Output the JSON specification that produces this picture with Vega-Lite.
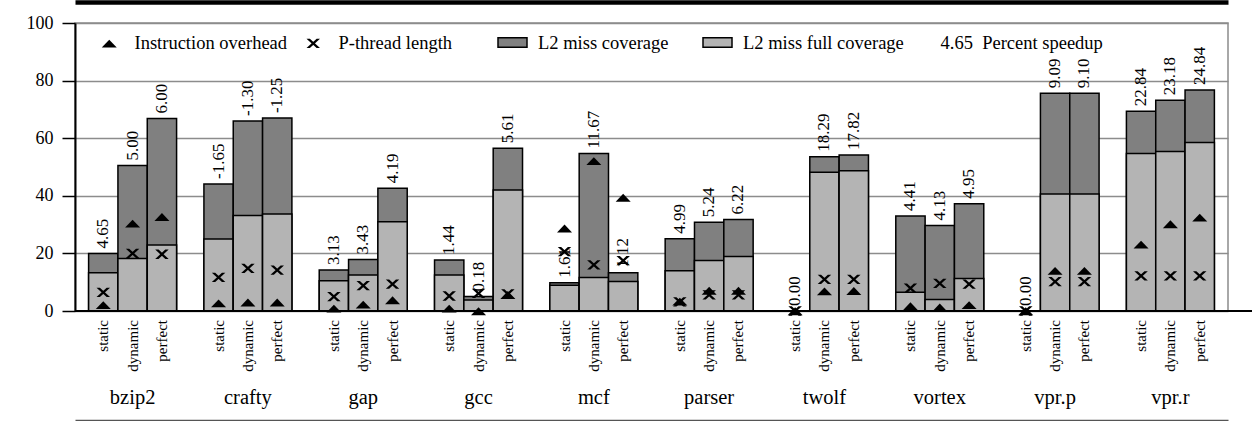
{
  "$schema": "https://vega.github.io/schema/vega-lite/v6.json",
  "width": 1153,
  "height": 288,
  "autosize": {"type": "none"},
  "padding": {"left": 75, "top": 23, "right": 24, "bottom": 110},
  "config": {
    "font": "Liberation Serif",
    "view": {"stroke": "#8c8c8c", "strokeWidth": 1.5}
  },
  "data": {
    "values": [
      {"group": "bzip2", "variant": "static", "cov": 20.0, "full": 13.3, "inst": 2.1, "plen": 6.5, "speedup": "4.65"},
      {"group": "bzip2", "variant": "dynamic", "cov": 50.5, "full": 18.2, "inst": 30.4, "plen": 20.0, "speedup": "5.00"},
      {"group": "bzip2", "variant": "perfect", "cov": 66.8, "full": 22.9, "inst": 32.7, "plen": 19.7, "speedup": "6.00"},
      {"group": "crafty", "variant": "static", "cov": 44.1, "full": 25.0, "inst": 2.7, "plen": 11.7, "speedup": "-1.65"},
      {"group": "crafty", "variant": "dynamic", "cov": 66.0, "full": 33.2, "inst": 3.0, "plen": 14.8, "speedup": "-1.30"},
      {"group": "crafty", "variant": "perfect", "cov": 67.0, "full": 33.7, "inst": 3.0, "plen": 14.2, "speedup": "-1.25"},
      {"group": "gap", "variant": "static", "cov": 14.2, "full": 10.5, "inst": 0.9, "plen": 5.0, "speedup": "3.13"},
      {"group": "gap", "variant": "dynamic", "cov": 17.9, "full": 12.5, "inst": 2.3, "plen": 8.8, "speedup": "3.43"},
      {"group": "gap", "variant": "perfect", "cov": 42.6, "full": 31.0, "inst": 3.8, "plen": 9.3, "speedup": "4.19"},
      {"group": "gcc", "variant": "static", "cov": 17.7, "full": 12.5, "inst": 0.9, "plen": 5.2, "speedup": "1.44"},
      {"group": "gcc", "variant": "dynamic", "cov": 5.0, "full": 3.8, "inst": 0.0, "plen": 6.1, "speedup": "0.18"},
      {"group": "gcc", "variant": "perfect", "cov": 56.5, "full": 42.0, "inst": 5.6, "plen": 5.9, "speedup": "5.61"},
      {"group": "mcf", "variant": "static", "cov": 9.8, "full": 8.9, "inst": 28.7, "plen": 20.6, "speedup": "1.61"},
      {"group": "mcf", "variant": "dynamic", "cov": 54.7, "full": 11.6, "inst": 52.1, "plen": 16.0, "speedup": "11.67"},
      {"group": "mcf", "variant": "perfect", "cov": 13.3, "full": 10.2, "inst": 39.4, "plen": 17.5, "speedup": "1.12"},
      {"group": "parser", "variant": "static", "cov": 25.1, "full": 14.0, "inst": 3.3, "plen": 3.2, "speedup": "4.99"},
      {"group": "parser", "variant": "dynamic", "cov": 30.8, "full": 17.5, "inst": 7.1, "plen": 5.6, "speedup": "5.24"},
      {"group": "parser", "variant": "perfect", "cov": 31.8, "full": 18.9, "inst": 7.1, "plen": 5.6, "speedup": "6.22"},
      {"group": "twolf", "variant": "static", "cov": 0, "full": 0, "inst": 0, "plen": 0, "speedup": "0.00"},
      {"group": "twolf", "variant": "dynamic", "cov": 53.6, "full": 48.2, "inst": 6.9, "plen": 11.0, "speedup": "18.29"},
      {"group": "twolf", "variant": "perfect", "cov": 54.2, "full": 48.7, "inst": 7.0, "plen": 11.0, "speedup": "17.82"},
      {"group": "vortex", "variant": "static", "cov": 33.0, "full": 6.5, "inst": 1.7, "plen": 7.9, "speedup": "4.41"},
      {"group": "vortex", "variant": "dynamic", "cov": 29.7, "full": 4.0, "inst": 1.3, "plen": 9.6, "speedup": "4.13"},
      {"group": "vortex", "variant": "perfect", "cov": 37.2, "full": 11.3, "inst": 2.1, "plen": 9.3, "speedup": "4.95"},
      {"group": "vpr.p", "variant": "static", "cov": 0, "full": 0, "inst": 0, "plen": 0, "speedup": "0.00"},
      {"group": "vpr.p", "variant": "dynamic", "cov": 75.6, "full": 40.6, "inst": 14.0, "plen": 10.2, "speedup": "9.09"},
      {"group": "vpr.p", "variant": "perfect", "cov": 75.6, "full": 40.6, "inst": 14.0, "plen": 10.2, "speedup": "9.10"},
      {"group": "vpr.r", "variant": "static", "cov": 69.4, "full": 54.7, "inst": 23.1, "plen": 12.2, "speedup": "22.84"},
      {"group": "vpr.r", "variant": "dynamic", "cov": 73.2, "full": 55.4, "inst": 30.2, "plen": 12.2, "speedup": "23.18"},
      {"group": "vpr.r", "variant": "perfect", "cov": 76.7, "full": 58.5, "inst": 32.5, "plen": 12.2, "speedup": "24.84"}
    ]
  },
  "encoding": {
    "xOffset": {
      "field": "variant", "type": "nominal", "sort": ["static", "dynamic", "perfect"],
      "scale": {"paddingInner": 0, "paddingOuter": 0}
    }
  },
  "resolve": {"axis": {"x": "independent"}},
  "layer": [
    {
      "transform": [{"fold": ["cov", "full"], "as": ["series", "pct"]}],
      "mark": {"type": "bar", "stroke": "black", "strokeWidth": 1.5, "opacity": 1},
      "encoding": {
        "x": {
          "field": "group", "type": "nominal", "sort": null,
          "scale": {"paddingInner": 0.237, "paddingOuter": 0.118},
          "axis": {"orient": "bottom", "title": null, "labelAngle": 0, "labelFontSize": 20.5, "labelColor": "black", "labelBaseline": "top", "labelPadding": -33, "ticks": false, "domainColor": "#555555", "domainWidth": 1.5, "offset": 109, "grid": false}
        },
        "y": {
          "field": "pct", "type": "quantitative", "stack": null,
          "scale": {"domain": [0, 100], "nice": false},
          "axis": {"title": null, "values": [0, 20, 40, 60, 80, 100], "labelFontSize": 18, "labelColor": "black", "labelPadding": 9, "tickSize": 13, "tickColor": "black", "tickWidth": 1.5, "domainColor": "black", "domainWidth": 2, "grid": true, "gridColor": "#8c8c8c", "gridWidth": 1.5}
        },
        "fill": {
          "field": "series", "type": "nominal",
          "scale": {"domain": ["cov", "full"], "range": ["#808080", "#b4b4b4"]},
          "legend": {"orient": "none", "legendX": 422, "legendY": 4, "direction": "horizontal", "title": null, "symbolType": "M-1,-0.33H1V0.33H-1Z", "symbolSize": 841, "symbolStrokeColor": "black", "symbolStrokeWidth": 1.5, "symbolOpacity": 1, "labelFontSize": 18.5, "labelColor": "black", "labelOffset": 10, "columnPadding": 31, "labelLimit": 400, "labelExpr": "datum.label == 'cov' ? 'L2 miss coverage' : 'L2 miss full coverage'"}
        }
      }
    },
    {
      "mark": {"type": "rule", "color": "black", "strokeWidth": 2},
      "encoding": {"y": {"datum": 0}}
    },
    {
      "transform": [{"fold": ["inst", "plen"], "as": ["marker", "val"]}],
      "mark": {"type": "point", "filled": true, "fill": "black", "strokeWidth": 0, "opacity": 1, "size": 225},
      "encoding": {
        "x": {"field": "group", "type": "nominal", "sort": null, "axis": null},
        "y": {"field": "val", "type": "quantitative"},
        "shape": {
          "field": "marker", "type": "nominal",
          "scale": {"domain": ["inst", "plen"], "range": ["M-1,0.55L1,0.55L0,-0.5Z", "M-0.9,-0.62L-0.45,-0.62L0.9,0.62L0.45,0.62Z M0.45,-0.62L0.9,-0.62L-0.45,0.62L-0.9,0.62Z"]},
          "legend": {
            "orient": "none", "legendX": 25, "legendY": 11, "direction": "horizontal", "title": null, "symbolSize": 225, "symbolFillColor": "black", "symbolStrokeWidth": 0, "symbolOpacity": 1, "labelFontSize": 18.5, "labelColor": "black", "labelOffset": 16, "columnPadding": 16, "labelLimit": 400, "labelExpr": "datum.label == 'inst' ? 'Instruction overhead' : 'P-thread length'"
          }
        }
      }
    },
    {
      "mark": {"type": "text", "angle": 270, "align": "left", "baseline": "middle", "dx": 5, "fontSize": 17},
      "encoding": {
        "x": {"field": "group", "type": "nominal", "sort": null, "axis": null},
        "y": {"field": "cov", "type": "quantitative"},
        "text": {"field": "speedup"},
        "color": {
          "datum": "sp",
          "scale": {"domain": ["sp"], "range": ["black"]},
          "legend": {"orient": "none", "legendX": 847, "legendY": 11, "title": null, "symbolOpacity": 0, "symbolSize": 1, "labelOffset": 0, "labelFontSize": 18.5, "labelColor": "black", "labelLimit": 400, "labelExpr": "'4.65\u00a0\u00a0Percent speedup'"}
        }
      }
    },
    {
      "mark": {"type": "text", "angle": 270, "align": "right", "baseline": "middle", "dx": -9, "fontSize": 15, "color": "black"},
      "encoding": {
        "x": {
          "field": "group", "type": "nominal", "sort": null,
          "axis": {"orient": "top", "title": null, "labels": false, "ticks": false, "grid": false, "domainColor": "black", "domainWidth": 4.5, "offset": 21}
        },
        "y": {"datum": 0},
        "text": {"field": "variant"}
      }
    }
  ]
}
